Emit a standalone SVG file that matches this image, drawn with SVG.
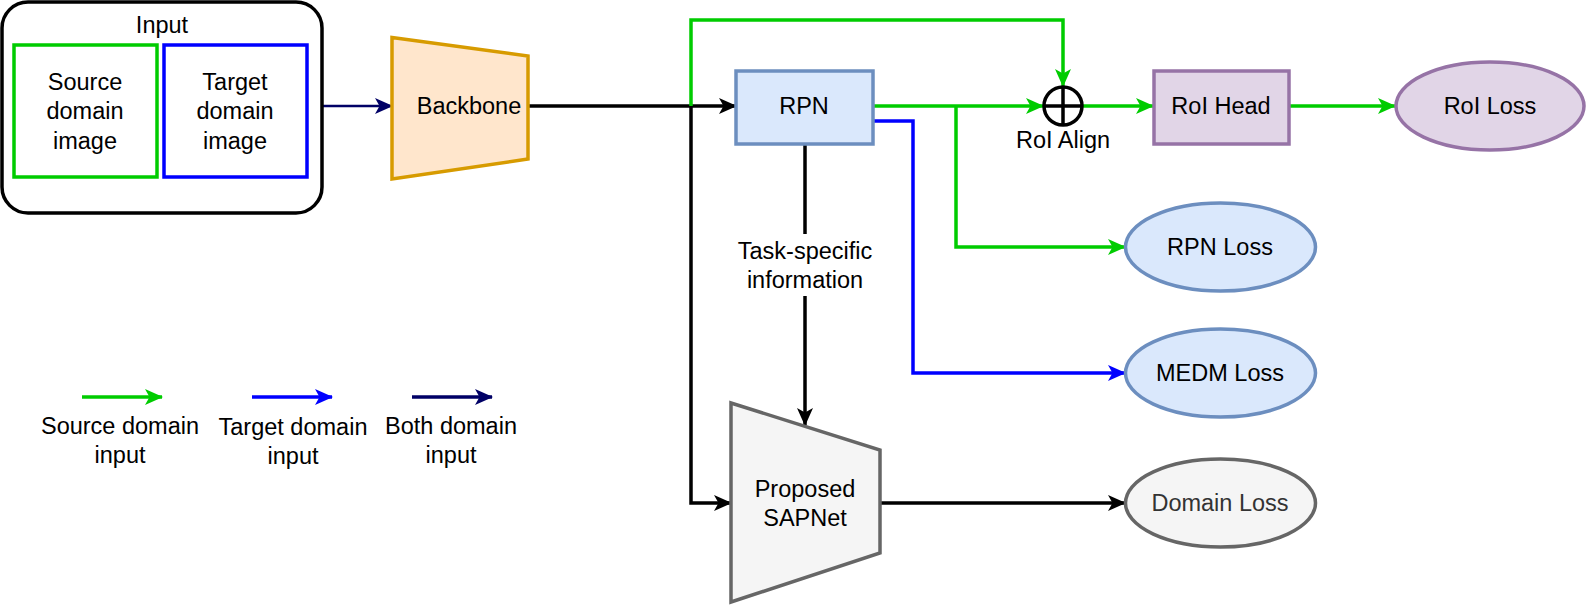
<svg xmlns="http://www.w3.org/2000/svg" width="1587" height="605" viewBox="0 0 1587 605">
<style>
text{font-family:"Liberation Sans",Arial,sans-serif;font-size:23.5px;fill:#000;text-anchor:middle}
.c{fill:none;stroke-width:3.5;stroke-linejoin:miter}
.g{stroke:#00CC00}.b{stroke:#0000FF}.k{stroke:#000}.n{stroke:#000066;stroke-width:2.5}
</style>
<defs>
<marker id="ag" viewBox="0 0 18 16" refX="17" refY="8" markerWidth="18" markerHeight="16" markerUnits="userSpaceOnUse" orient="auto"><path d="M0,0 L18,8 L0,16 L4.5,8 z" fill="#00CC00"/></marker>
<marker id="ab" viewBox="0 0 18 16" refX="17" refY="8" markerWidth="18" markerHeight="16" markerUnits="userSpaceOnUse" orient="auto"><path d="M0,0 L18,8 L0,16 L4.5,8 z" fill="#0000FF"/></marker>
<marker id="ak" viewBox="0 0 18 16" refX="17" refY="8" markerWidth="18" markerHeight="16" markerUnits="userSpaceOnUse" orient="auto"><path d="M0,0 L18,8 L0,16 L4.5,8 z" fill="#000"/></marker>
<marker id="an" viewBox="0 0 18 16" refX="17" refY="8" markerWidth="18" markerHeight="16" markerUnits="userSpaceOnUse" orient="auto"><path d="M0,0 L18,8 L0,16 L4.5,8 z" fill="#000066"/></marker>
</defs>
<rect width="1587" height="605" fill="#fff"/>
<g id="connectors">
<path class="c n" d="M322,106 L392,106" marker-end="url(#an)"/>
<path class="c k" d="M528,106 L736,106" marker-end="url(#ak)"/>
<path class="c g" d="M691,106 L691,20 L1063,20 L1063,86" marker-end="url(#ag)"/>
<path class="c k" d="M691,106 L691,503 L731,503" marker-end="url(#ak)"/>
<path class="c g" d="M873,106 L1043,106" marker-end="url(#ag)"/>
<path class="c g" d="M956,106 L956,247 L1125,247" marker-end="url(#ag)"/>
<path class="c b" d="M873,121 L913,121 L913,373 L1125,373" marker-end="url(#ab)"/>
<path class="c g" d="M1083,106 L1153,106" marker-end="url(#ag)"/>
<path class="c g" d="M1289,106 L1395,106" marker-end="url(#ag)"/>
<path class="c k" d="M805,144 L805,425" marker-end="url(#ak)"/>
<path class="c k" d="M881,503 L1125,503" marker-end="url(#ak)"/>
<rect x="722" y="234" width="166" height="62" fill="#fff"/>
<text x="805" y="259">Task-specific</text>
<text x="805" y="288">information</text>
</g>
<g id="input">
<rect x="2" y="2" width="320" height="211" rx="26" fill="#fff" stroke="#000" stroke-width="3.5"/>
<text x="162" y="33">Input</text>
</g>
<g id="source">
<rect x="14" y="45" width="143" height="132" fill="#fff" stroke="#00CC00" stroke-width="3.5"/>
<text x="85" y="90">Source</text><text x="85" y="119">domain</text><text x="85" y="149">image</text>
</g>
<g id="target">
<rect x="164" y="45" width="143" height="132" fill="#fff" stroke="#0000FF" stroke-width="3.5"/>
<text x="235" y="90">Target</text><text x="235" y="119">domain</text><text x="235" y="149">image</text>
</g>
<g id="backbone">
<path d="M392,37.5 L528,56 L528,159 L392,179 z" fill="#ffe6cc" stroke="#d79b00" stroke-width="3.5"/>
<text x="469" y="114">Backbone</text>
</g>
<g id="rpn">
<rect x="736" y="71" width="137" height="73" fill="#dae8fc" stroke="#6c8ebf" stroke-width="3.5"/>
<text x="804" y="114">RPN</text>
</g>
<g id="roialign">
<circle cx="1063" cy="106" r="19" fill="#fff" stroke="#000" stroke-width="3.5"/>
<path d="M1044,106 L1082,106 M1063,87 L1063,125" stroke="#000" stroke-width="3.5"/>
<text x="1063" y="148">RoI Align</text>
</g>
<g id="roihead">
<rect x="1154" y="71" width="135" height="73" fill="#e1d5e7" stroke="#9673a6" stroke-width="3.5"/>
<text x="1221" y="114">RoI Head</text>
</g>
<g id="roiloss">
<ellipse cx="1490" cy="106" rx="94" ry="44" fill="#e1d5e7" stroke="#9673a6" stroke-width="3.5"/>
<text x="1490" y="114">RoI Loss</text>
</g>
<g id="rpnloss">
<ellipse cx="1220.5" cy="247" rx="95" ry="44" fill="#dae8fc" stroke="#6c8ebf" stroke-width="3.5"/>
<text x="1220" y="255">RPN Loss</text>
</g>
<g id="medmloss">
<ellipse cx="1220.5" cy="373" rx="95" ry="44" fill="#dae8fc" stroke="#6c8ebf" stroke-width="3.5"/>
<text x="1220" y="381">MEDM Loss</text>
</g>
<g id="domainloss">
<ellipse cx="1220.5" cy="503" rx="95" ry="44" fill="#f5f5f5" stroke="#666666" stroke-width="3.5"/>
<text x="1220" y="511" style="fill:#333333">Domain Loss</text>
</g>
<g id="sapnet">
<path d="M731,403 L880,450 L880,553 L731,602 z" fill="#f5f5f5" stroke="#666666" stroke-width="3.5"/>
<text x="805" y="497">Proposed</text><text x="805" y="526">SAPNet</text>
</g>
<g id="legend">
<path class="c g" d="M82,397 L162,397" marker-end="url(#ag)"/>
<path class="c b" d="M252,397 L332,397" marker-end="url(#ab)"/>
<path class="c" stroke="#000066" d="M412,397 L492,397" marker-end="url(#an)"/>
<text x="120" y="434">Source domain</text><text x="120" y="463">input</text>
<text x="293" y="435">Target domain</text><text x="293" y="464">input</text>
<text x="451" y="434">Both domain</text><text x="451" y="463">input</text>
</g>
</svg>
